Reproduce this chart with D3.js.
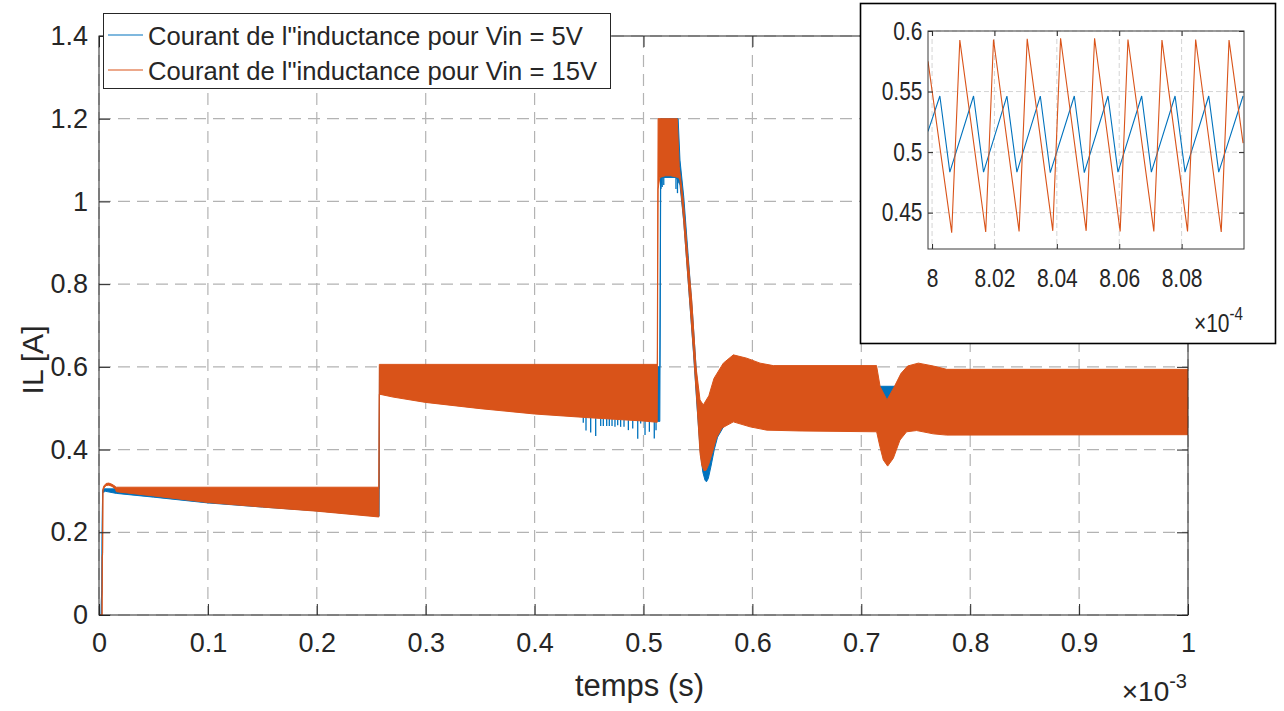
<!DOCTYPE html>
<html>
<head>
<meta charset="utf-8">
<script src="https://cdn.jsdelivr.net/npm/d3@7"></script>
<style>
  html, body { margin: 0; padding: 0; background: #ffffff; }
  svg { display: block; }
  text { font-family: "Liberation Sans", Arial, Helvetica, sans-serif; fill: #262626; }
</style>
</head>
<body>
<svg id="chart" width="1284" height="711"></svg>
<script>
// ---- Axis ticks -------------------------------------------------------
const xTicks = [0, 0.1, 0.2, 0.3, 0.4, 0.5, 0.6, 0.7, 0.8, 0.9, 1];      // ms (x10^-3 s)
const yTicks = [0, 0.2, 0.4, 0.6, 0.8, 1, 1.2, 1.4];                      // A
const insetXTicks = [8, 8.02, 8.04, 8.06, 8.08];                          // x10^-4 s
const insetYTicks = [0.45, 0.5, 0.55, 0.6];

// ---- Series labels ----------------------------------------------------
const seriesNames = [
  "Courant de l\"inductance pour Vin = 5V",
  "Courant de l\"inductance pour Vin = 15V"
];

// ---- Ripple envelopes of the inductor current: [time (ms), current (A)] ----
// Vin = 15 V
const orangeUpper = [
  [0, 0], [0.0028, 0], [0.0030, 0.145], [0.0033, 0.150], [0.0036, 0.305],
  [0.0045, 0.312], [0.0065, 0.318], [0.0090, 0.319], [0.0120, 0.316], [0.0150, 0.311],
  [0.0160, 0.309], [0.2570, 0.309], [0.2574, 0.606], [0.5126, 0.606], [0.5134, 1.2],
  [0.5310, 1.2], [0.5328, 1.084], [0.5365, 1.003], [0.5402, 0.882], [0.5443, 0.761],
  [0.5482, 0.600], [0.5519, 0.520], [0.5549, 0.508], [0.5600, 0.530], [0.5647, 0.572],
  [0.5733, 0.609], [0.5825, 0.629], [0.5948, 0.621], [0.6070, 0.609], [0.6192, 0.603],
  [0.7140, 0.603], [0.7173, 0.552], [0.7236, 0.520], [0.7303, 0.552], [0.7364, 0.584],
  [0.7425, 0.602], [0.7524, 0.609], [0.7661, 0.602], [0.7784, 0.594], [1.0, 0.594]
];
const orangeLower = [
  [0, 0], [0.0028, 0], [0.0030, 0.140], [0.0033, 0.145], [0.0036, 0.300],
  [0.0045, 0.307], [0.0065, 0.313], [0.0090, 0.314], [0.0120, 0.311], [0.0150, 0.304],
  [0.0160, 0.298], [0.05, 0.288], [0.10, 0.272], [0.15, 0.261], [0.20, 0.251],
  [0.2570, 0.237], [0.2574, 0.534], [0.27, 0.527], [0.30, 0.514], [0.35, 0.499],
  [0.40, 0.486], [0.45, 0.477], [0.50, 0.469], [0.5126, 0.466], [0.5134, 1.030],
  [0.5150, 1.058], [0.5200, 1.062], [0.5250, 1.062], [0.5320, 1.058], [0.5335, 1.052],
  [0.5366, 0.963], [0.5412, 0.802], [0.5458, 0.641], [0.5489, 0.520], [0.5519, 0.391],
  [0.5535, 0.362], [0.5555, 0.349], [0.5575, 0.350], [0.5600, 0.365], [0.5635, 0.395],
  [0.5670, 0.428], [0.5720, 0.452], [0.5825, 0.467], [0.5978, 0.455], [0.6131, 0.447],
  [0.6437, 0.445], [0.7141, 0.443], [0.7171, 0.407], [0.7202, 0.375], [0.7242, 0.360],
  [0.7294, 0.379], [0.7355, 0.423], [0.7416, 0.443], [0.7508, 0.446], [0.7661, 0.438],
  [0.7784, 0.435], [1.0, 0.436]
];
// Vin = 5 V
const blueUpper = [
  [0, 0], [0.0020, 0], [0.0022, 0.040], [0.0026, 0.060], [0.0029, 0.190],
  [0.0033, 0.300], [0.0040, 0.305], [0.2572, 0.305], [0.2576, 0.600], [0.5150, 0.600],
  [0.5158, 1.2], [0.5318, 1.2], [0.5335, 1.10], [0.5370, 1.01], [0.5410, 0.87],
  [0.5450, 0.73], [0.5490, 0.57], [0.5520, 0.47], [0.5555, 0.40], [0.5580, 0.39],
  [0.5620, 0.43], [0.5700, 0.50], [0.5800, 0.545], [0.6000, 0.550], [0.7130, 0.549],
  [0.7150, 0.553], [0.7330, 0.553], [0.7360, 0.548], [1.0, 0.547]
];
const blueLower = [
  [0, 0], [0.0020, 0], [0.0022, 0.035], [0.0026, 0.055], [0.0029, 0.185],
  [0.0033, 0.296], [0.0060, 0.299], [0.0160, 0.294], [0.05, 0.285], [0.10, 0.271],
  [0.15, 0.261], [0.20, 0.252], [0.2572, 0.239], [0.2576, 0.536], [0.30, 0.516],
  [0.40, 0.488], [0.45, 0.479], [0.50, 0.471], [0.5150, 0.468], [0.5158, 1.030],
  [0.5170, 1.058], [0.5300, 1.058], [0.5335, 1.04], [0.5370, 0.95], [0.5415, 0.79],
  [0.5460, 0.63], [0.5490, 0.51], [0.5520, 0.40], [0.5545, 0.345], [0.5565, 0.326],
  [0.5578, 0.322], [0.5595, 0.330], [0.5620, 0.360], [0.5650, 0.400], [0.5680, 0.430],
  [0.5750, 0.462], [0.5825, 0.475], [0.6000, 0.480], [0.7130, 0.482], [0.7250, 0.40],
  [0.7400, 0.480], [1.0, 0.483]
];
// Isolated downward glitches of the Vin = 5 V current (time ms, band edge A, tip A)
const blueSpikeT    = [0.4447, 0.4472, 0.4515, 0.4561, 0.4607, 0.4631, 0.4662, 0.4686, 0.4711, 0.4738, 0.4763, 0.4790, 0.4821, 0.4861, 0.4901, 0.4947, 0.4974, 0.5014, 0.5054, 0.5099, 0.5115, 0.5160, 0.5172, 0.5186, 0.5298, 0.5312];
const blueSpikeBase = [0.478, 0.478, 0.477, 0.476, 0.475, 0.475, 0.474, 0.474, 0.474, 0.473, 0.473, 0.472, 0.472, 0.471, 0.471, 0.470, 0.469, 0.469, 0.468, 0.467, 0.467, 1.058, 1.058, 1.058, 1.058, 1.058];
const blueSpikeLow  = [0.465, 0.446, 0.441, 0.433, 0.457, 0.457, 0.457, 0.457, 0.457, 0.455, 0.459, 0.455, 0.455, 0.447, 0.451, 0.426, 0.463, 0.435, 0.443, 0.427, 0.447, 1.030, 1.035, 1.040, 1.030, 1.020];

// ---- Zoomed steady-state ripple (time x10^-4 s, current A) ----
const insetOrangeT = [7.9987, 8.0063, 8.0089, 8.0172, 8.0197, 8.0279, 8.0305, 8.0387, 8.0412, 8.0494, 8.0521, 8.0603, 8.0628, 8.0711, 8.0737, 8.0819, 8.0845, 8.0927, 8.0952, 8.0997];
const insetOrangeV = [0.575, 0.4335, 0.5925, 0.434, 0.593, 0.4345, 0.5935, 0.435, 0.594, 0.435, 0.594, 0.4345, 0.593, 0.4345, 0.5925, 0.4345, 0.593, 0.434, 0.5925, 0.5074];
const insetBlueT   = [7.9987, 8.0025, 8.0057, 8.0133, 8.0165, 8.0240, 8.0272, 8.0347, 8.0379, 8.0456, 8.0488, 8.0564, 8.0596, 8.0672, 8.0703, 8.0779, 8.0811, 8.0887, 8.0919, 8.0997];
const insetBlueV   = [0.5171, 0.5463, 0.4835, 0.5463, 0.4835, 0.5463, 0.4835, 0.5463, 0.4830, 0.5463, 0.4830, 0.5463, 0.4835, 0.5463, 0.4835, 0.5463, 0.4835, 0.5463, 0.4835, 0.5463];

const BLUE = "#0072BD", ORANGE = "#D95319", AXIS = "#262626";

// ---- Layout ----
const svg = d3.select("#chart");
const plot = { left: 99, right: 1188, top: 36, bottom: 615 };
const x = d3.scaleLinear().domain([0, 1]).range([plot.left, plot.right]);
const y = d3.scaleLinear().domain([0, 1.4]).range([plot.bottom, plot.top]);

svg.append("rect").attr("width", 1284).attr("height", 711).attr("fill", "#fff");

// grid
const grid = svg.append("g").attr("stroke", "#b3b3b3").attr("stroke-width", 1.2).attr("stroke-dasharray", "12,7");
grid.selectAll(".gx").data(xTicks).join("line")
  .attr("x1", d => x(d)).attr("x2", d => x(d)).attr("y1", plot.top).attr("y2", plot.bottom);
grid.selectAll(".gy").data(yTicks).join("line")
  .attr("x1", plot.left).attr("x2", plot.right).attr("y1", d => y(d)).attr("y2", d => y(d));

svg.append("clipPath").attr("id", "plotClip").append("rect")
  .attr("x", plot.left).attr("y", plot.top)
  .attr("width", plot.right - plot.left).attr("height", plot.bottom - plot.top);

const bandPath = (upper, lower) =>
  d3.line().x(d => x(d[0])).y(d => y(d[1]))(upper.concat(lower.slice().reverse())) + "Z";

const traces = svg.append("g").attr("clip-path", "url(#plotClip)");
traces.append("path").attr("d", bandPath(blueUpper, blueLower))
  .attr("fill", BLUE).attr("stroke", BLUE).attr("stroke-width", 1).attr("stroke-linejoin", "round");
traces.append("g").selectAll("line").data(blueSpikeT).join("line")
  .attr("x1", d => x(d)).attr("x2", d => x(d))
  .attr("y1", (d, i) => y(blueSpikeBase[i])).attr("y2", (d, i) => y(blueSpikeLow[i]))
  .attr("stroke", BLUE).attr("stroke-width", 1.3);
traces.append("path").attr("d", bandPath(orangeUpper, orangeLower))
  .attr("fill", ORANGE).attr("stroke", ORANGE).attr("stroke-width", 1).attr("stroke-linejoin", "round");

// axes (ticks pointing inward on all four sides)
function styleAxis(g, size) {
  g.select(".domain").remove();
  g.selectAll(".tick line").attr("stroke", AXIS).attr("stroke-width", 1);
  g.selectAll(".tick text").attr("fill", AXIS).attr("font-size", size)
    .attr("font-family", "\"Liberation Sans\", Arial, sans-serif");
}
const fmt = d3.format("~g");
svg.append("g").attr("transform", `translate(0,${plot.bottom})`)
  .call(d3.axisBottom(x).tickValues(xTicks).tickFormat(fmt).tickSizeInner(-11).tickSizeOuter(0).tickPadding(18))
  .call(g => styleAxis(g, 27));
svg.append("g").attr("transform", `translate(${plot.left},0)`)
  .call(d3.axisLeft(y).tickValues(yTicks).tickFormat(fmt).tickSizeInner(-11).tickSizeOuter(0).tickPadding(11))
  .call(g => styleAxis(g, 27));
svg.append("g").attr("transform", `translate(0,${plot.top})`)
  .call(d3.axisTop(x).tickValues(xTicks).tickFormat("").tickSizeInner(-11).tickSizeOuter(0))
  .call(g => styleAxis(g, 27));
svg.append("g").attr("transform", `translate(${plot.right},0)`)
  .call(d3.axisRight(y).tickValues(yTicks).tickFormat("").tickSizeInner(-11).tickSizeOuter(0))
  .call(g => styleAxis(g, 27));
svg.append("rect").attr("x", plot.left).attr("y", plot.top)
  .attr("width", plot.right - plot.left).attr("height", plot.bottom - plot.top)
  .attr("fill", "none").attr("stroke", AXIS).attr("stroke-width", 1);

// axis labels
svg.append("text").attr("x", (plot.left + plot.right) / 2 - 4).attr("y", 696)
  .attr("text-anchor", "middle").attr("font-size", 31).text("temps (s)");
svg.append("text").attr("transform", "translate(43,360) rotate(-90)")
  .attr("text-anchor", "middle").attr("font-size", 30).text("IL [A]");
const expMain = svg.append("text").attr("x", 1187).attr("y", 701)
  .attr("text-anchor", "end").attr("font-size", 28);
expMain.append("tspan").text("\u00d710");
expMain.append("tspan").attr("dy", -13).attr("font-size", 20).text("-3");

// legend
const legend = svg.append("g");
legend.append("rect").attr("x", 103.5).attr("y", 13.5).attr("width", 507).attr("height", 75)
  .attr("fill", "#fff").attr("stroke", AXIS).attr("stroke-width", 1);
[BLUE, ORANGE].forEach((c, i) => {
  const cy = 35 + i * 35;
  legend.append("line").attr("x1", 108).attr("x2", 143).attr("y1", cy).attr("y2", cy)
    .attr("stroke", c).attr("stroke-width", 1.2);
  legend.append("text").attr("x", 148).attr("y", cy + 9.5).attr("font-size", 25.6).text(seriesNames[i]);
});

// ---- Inset: zoom on the steady-state ripple ----
const inset = svg.append("g");
inset.append("rect").attr("x", 860.5).attr("y", 3.5).attr("width", 415).attr("height", 340)
  .attr("fill", "#fff").attr("stroke", "#000").attr("stroke-width", 1.6);
const ib = { left: 928, right: 1244, top: 31, bottom: 249 };
const xi = d3.scaleLinear().domain([7.9987, 8.1]).range([ib.left, ib.right]);
const yi = d3.scaleLinear().domain([0.42, 0.6]).range([ib.bottom, ib.top]);

const igrid = inset.append("g").attr("stroke", "#d4d4d4").attr("stroke-width", 1).attr("stroke-dasharray", "5,3");
igrid.selectAll(".gx").data(insetXTicks).join("line")
  .attr("x1", d => xi(d)).attr("x2", d => xi(d)).attr("y1", ib.top).attr("y2", ib.bottom);
igrid.selectAll(".gy").data(insetYTicks).join("line")
  .attr("x1", ib.left).attr("x2", ib.right).attr("y1", d => yi(d)).attr("y2", d => yi(d));

svg.append("clipPath").attr("id", "insetClip").append("rect")
  .attr("x", ib.left).attr("y", ib.top).attr("width", ib.right - ib.left).attr("height", ib.bottom - ib.top);
const iLine = d3.line().x(d => xi(d[0])).y(d => yi(d[1]));
const iTraces = inset.append("g").attr("clip-path", "url(#insetClip)").attr("fill", "none");
iTraces.append("path").attr("d", iLine(insetBlueT.map((t, i) => [t, insetBlueV[i]])))
  .attr("stroke", BLUE).attr("stroke-width", 1.1);
iTraces.append("path").attr("d", iLine(insetOrangeT.map((t, i) => [t, insetOrangeV[i]])))
  .attr("stroke", ORANGE).attr("stroke-width", 1.1);

const condense = g => g.selectAll(".tick text").attr("transform", "scale(0.84,1)");
inset.append("g").attr("transform", `translate(0,${ib.bottom})`)
  .call(d3.axisBottom(xi).tickValues(insetXTicks).tickFormat(fmt).tickSizeInner(-5).tickSizeOuter(0).tickPadding(20))
  .call(g => styleAxis(g, 25)).call(condense);
inset.append("g").attr("transform", `translate(${ib.left},0)`)
  .call(d3.axisLeft(yi).tickValues(insetYTicks).tickFormat(fmt).tickSizeInner(-5).tickSizeOuter(0).tickPadding(6.5))
  .call(g => styleAxis(g, 25)).call(condense);
inset.append("g").attr("transform", `translate(0,${ib.top})`)
  .call(d3.axisTop(xi).tickValues(insetXTicks).tickFormat("").tickSizeInner(-5).tickSizeOuter(0))
  .call(g => styleAxis(g, 25));
inset.append("g").attr("transform", `translate(${ib.right},0)`)
  .call(d3.axisRight(yi).tickValues(insetYTicks).tickFormat("").tickSizeInner(-5).tickSizeOuter(0))
  .call(g => styleAxis(g, 25));
inset.append("rect").attr("x", ib.left).attr("y", ib.top)
  .attr("width", ib.right - ib.left).attr("height", ib.bottom - ib.top)
  .attr("fill", "none").attr("stroke", "#3a3a3a").attr("stroke-width", 1);
const expInset = inset.append("text").attr("transform", "translate(1243,332) scale(0.84,1)")
  .attr("text-anchor", "end").attr("font-size", 25);
expInset.append("tspan").text("\u00d710");
expInset.append("tspan").attr("dy", -12).attr("font-size", 18).text("-4");
</script>
</body>
</html>
